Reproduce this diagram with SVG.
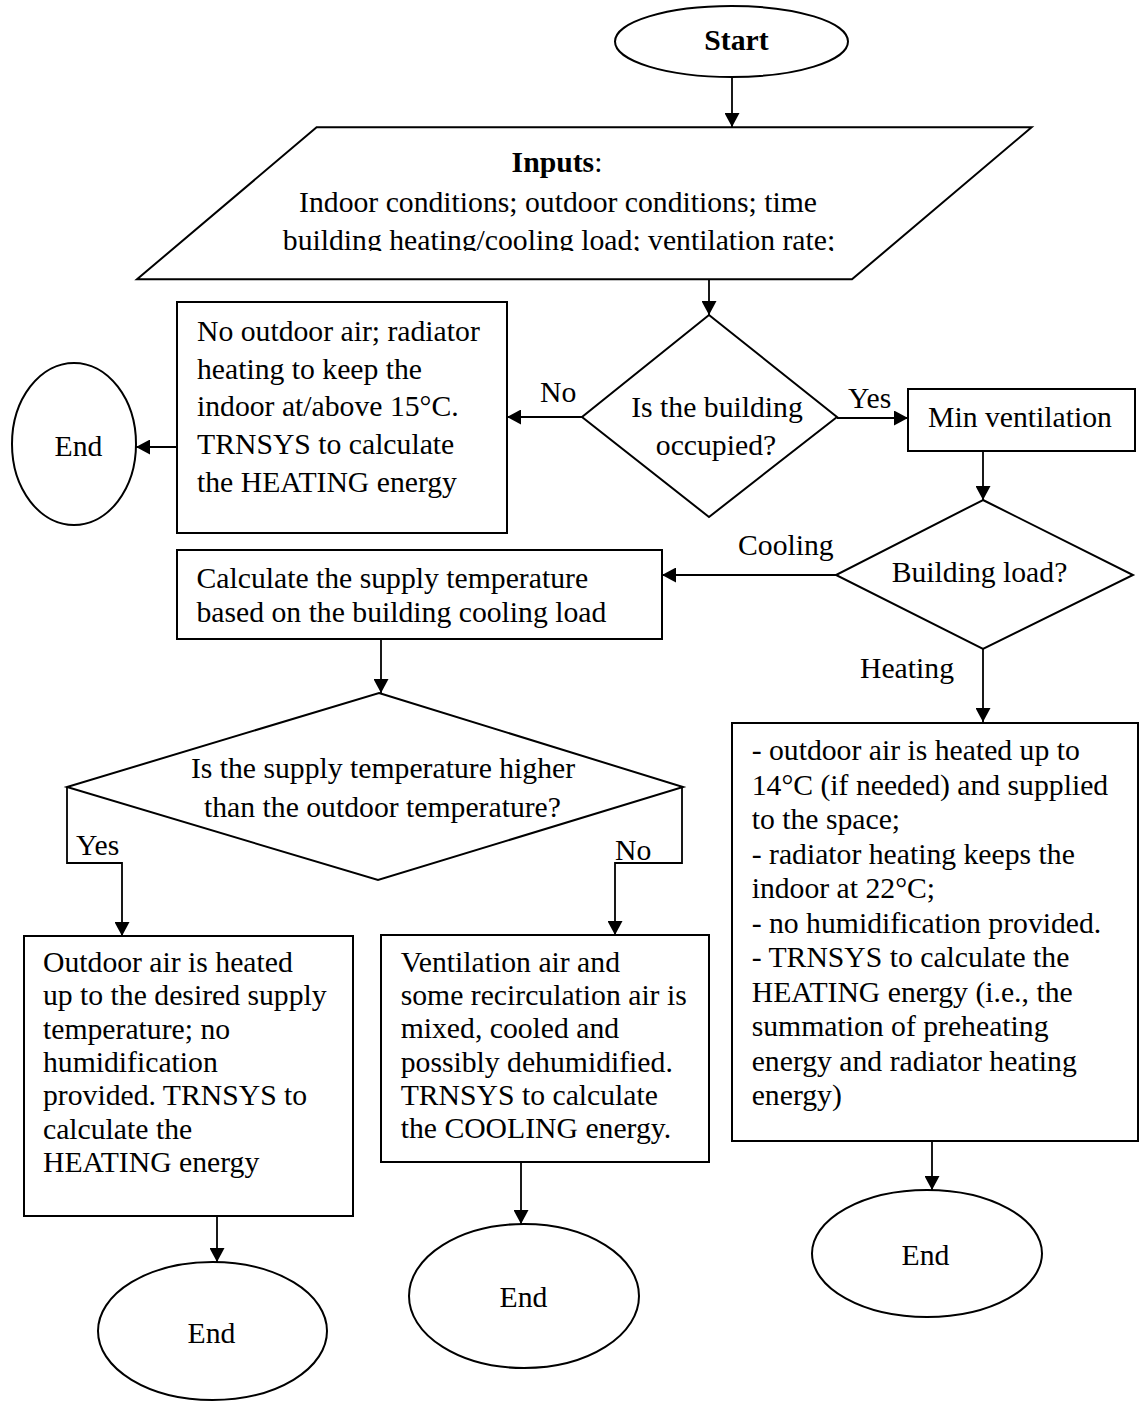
<svg xmlns="http://www.w3.org/2000/svg" width="1140" height="1408" viewBox="0 0 1140 1408">
  <style>
    .shape { fill: #ffffff; stroke: #000000; stroke-width: 2; }
    .conn { fill: none; stroke: #000000; stroke-width: 1.8; }
    text { font-family: "Liberation Serif", "Times New Roman", serif; font-size: 29.7px; fill: #000000; }
    .mid { text-anchor: middle; }
    .bold { font-weight: bold; }
  </style>
  <defs>
    <marker id="arrow" markerUnits="userSpaceOnUse" viewBox="0 0 14 15" refX="14" refY="7.5" markerWidth="14" markerHeight="15" orient="auto">
      <path d="M0,0 L14,7.5 L0,15 Z" fill="#000000"/>
    </marker>
    <clipPath id="inputs-clip">
      <rect x="0" y="0" width="1140" height="251"/>
    </clipPath>
  </defs>
  <rect width="1140" height="1408" fill="#ffffff"/>

  <!-- connectors -->
  <g id="connectors">
    <line class="conn" x1="732" y1="77" x2="732" y2="127" marker-end="url(#arrow)"/>
    <line class="conn" x1="709" y1="279" x2="709" y2="315" marker-end="url(#arrow)"/>
    <line class="conn" x1="582" y1="417" x2="507" y2="417" marker-end="url(#arrow)"/>
    <line class="conn" x1="177" y1="447" x2="136" y2="447" marker-end="url(#arrow)"/>
    <line class="conn" x1="837" y1="418" x2="908" y2="418" marker-end="url(#arrow)"/>
    <line class="conn" x1="983" y1="451" x2="983" y2="500" marker-end="url(#arrow)"/>
    <line class="conn" x1="836" y1="575" x2="662" y2="575" marker-end="url(#arrow)"/>
    <line class="conn" x1="983" y1="649" x2="983" y2="722" marker-end="url(#arrow)"/>
    <line class="conn" x1="381" y1="639" x2="381" y2="693" marker-end="url(#arrow)"/>
    <polyline class="conn" points="67,787 67,863 122,863 122,936" marker-end="url(#arrow)"/>
    <polyline class="conn" points="682,787 682,863 615,863 615,935" marker-end="url(#arrow)"/>
    <line class="conn" x1="217" y1="1216" x2="217" y2="1262" marker-end="url(#arrow)"/>
    <line class="conn" x1="521" y1="1162" x2="521" y2="1224" marker-end="url(#arrow)"/>
    <line class="conn" x1="932" y1="1141" x2="932" y2="1190" marker-end="url(#arrow)"/>
  </g>

  <!-- connector labels -->
  <g id="labels">
    <text x="540" y="402">No</text>
    <text x="848" y="408">Yes</text>
    <text x="738" y="555">Cooling</text>
    <text x="860" y="678">Heating</text>
    <text x="76" y="855">Yes</text>
    <text x="615" y="860">No</text>
  </g>

  <g id="start">
    <ellipse class="shape" cx="731.5" cy="41.5" rx="116.5" ry="35.5"/>
    <text class="mid bold" x="736.5" y="50">Start</text>
  </g>

  <g id="inputs">
    <polygon class="shape" points="316.6,127.3 1031.6,127.3 852,279.3 137,279.3"/>
    <text class="mid" x="557" y="172"><tspan class="bold">Inputs</tspan>:</text>
    <text class="mid" x="558" y="212">Indoor conditions; outdoor conditions; time</text>
    <text class="mid" x="559" y="250" clip-path="url(#inputs-clip)">building heating/cooling load; ventilation rate;</text>
  </g>

  <g id="occupied">
    <polygon class="shape" points="709,315 837,417 709,517 582,417"/>
    <text class="mid" x="717" y="417">Is the building</text>
    <text class="mid" x="716" y="455">occupied?</text>
  </g>

  <g id="unoccupied-heating">
    <rect class="shape" x="177" y="302" width="330" height="231"/>
    <text x="197" y="341">No outdoor air; radiator</text>
    <text x="197" y="378.7">heating to keep the</text>
    <text x="197" y="416.4">indoor at/above 15°C.</text>
    <text x="197" y="454.1">TRNSYS to calculate</text>
    <text x="197" y="491.8">the HEATING energy</text>
  </g>

  <g id="end-unoccupied">
    <ellipse class="shape" cx="74" cy="444" rx="62" ry="81"/>
    <text class="mid" x="78.5" y="456">End</text>
  </g>

  <g id="min-ventilation">
    <rect class="shape" x="908" y="389" width="227" height="62"/>
    <text x="928" y="427">Min ventilation</text>
  </g>

  <g id="building-load">
    <polygon class="shape" points="983,500 1133,575 983,649 836,575"/>
    <text class="mid" x="979.5" y="582">Building load?</text>
  </g>

  <g id="supply-temperature">
    <rect class="shape" x="177" y="550" width="485" height="89"/>
    <text x="196.5" y="588">Calculate the supply temperature</text>
    <text x="196.5" y="621.7">based on the building cooling load</text>
  </g>

  <g id="supply-vs-outdoor">
    <polygon class="shape" points="379,693 683,787 378,880 67,787"/>
    <text class="mid" x="383" y="778">Is the supply temperature higher</text>
    <text class="mid" x="382.5" y="817">than the outdoor temperature?</text>
  </g>

  <g id="outdoor-air-heated">
    <rect class="shape" x="24" y="936" width="329" height="280"/>
    <text x="43" y="972">Outdoor air is heated</text>
    <text x="43" y="1005.3">up to the desired supply</text>
    <text x="43" y="1038.7">temperature; no</text>
    <text x="43" y="1072">humidification</text>
    <text x="43" y="1105.3">provided. TRNSYS to</text>
    <text x="43" y="1138.7">calculate the</text>
    <text x="43" y="1172">HEATING energy</text>
  </g>

  <g id="end-heated">
    <ellipse class="shape" cx="212.5" cy="1331" rx="114.5" ry="69"/>
    <text class="mid" x="211.5" y="1343">End</text>
  </g>

  <g id="mixed-cooled">
    <rect class="shape" x="381" y="935" width="328" height="227"/>
    <text x="400.7" y="971.7">Ventilation air and</text>
    <text x="400.7" y="1005">some recirculation air is</text>
    <text x="400.7" y="1038.3">mixed, cooled and</text>
    <text x="400.7" y="1071.7">possibly dehumidified.</text>
    <text x="400.7" y="1105">TRNSYS to calculate</text>
    <text x="400.7" y="1138.3">the COOLING energy.</text>
  </g>

  <g id="end-cooled">
    <ellipse class="shape" cx="524" cy="1296" rx="115" ry="72"/>
    <text class="mid" x="523.5" y="1307">End</text>
  </g>

  <g id="heating-mode">
    <rect class="shape" x="732" y="723" width="406" height="418"/>
    <text x="751.7" y="760">- outdoor air is heated up to</text>
    <text x="751.7" y="794.5">14°C (if needed) and supplied</text>
    <text x="751.7" y="829">to the space;</text>
    <text x="751.7" y="863.5">- radiator heating keeps the</text>
    <text x="751.7" y="898">indoor at 22°C;</text>
    <text x="751.7" y="932.5">- no humidification provided.</text>
    <text x="751.7" y="967">- TRNSYS to calculate the</text>
    <text x="751.7" y="1001.5">HEATING energy (i.e., the</text>
    <text x="751.7" y="1036">summation of preheating</text>
    <text x="751.7" y="1070.5">energy and radiator heating</text>
    <text x="751.7" y="1105">energy)</text>
  </g>

  <g id="end-heating">
    <ellipse class="shape" cx="927" cy="1253.5" rx="115" ry="63.5"/>
    <text class="mid" x="925.5" y="1265">End</text>
  </g>
</svg>
